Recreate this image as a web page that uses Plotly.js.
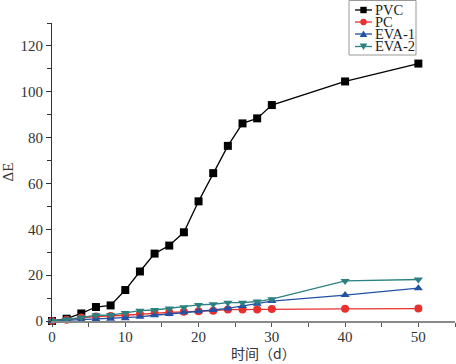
<!DOCTYPE html>
<html>
<head>
<meta charset="utf-8">
<script src="https://cdn.plot.ly/plotly-3.0.1.min.js"></script>
<style>html,body{margin:0;padding:0;background:#fff;}#chart{width:456px;height:364px;}</style>
</head>
<body>
<div id="chart"></div>
<script>
const days = [0, 2, 4, 6, 8, 10, 12, 14, 16, 18, 20, 22, 24, 26, 28, 30, 40, 50];
const pvc  = [0, 1.0, 3.3, 6.1, 6.8, 13.5, 21.6, 29.4, 32.9, 38.7, 52.2, 64.5, 76.4, 86.2, 88.4, 94.2, 104.5, 112.3];
const pc   = [0, 0.5, 1.5, 2.0, 2.2, 2.5, 3.0, 3.5, 3.8, 4.0, 4.2, 4.5, 5.0, 5.0, 5.0, 5.2, 5.3, 5.4];
const eva1 = [0, 0.3, 0.5, 0.8, 1.0, 1.2, 1.8, 2.5, 3.0, 3.8, 4.3, 4.8, 5.5, 6.5, 7.5, 8.7, 11.3, 14.3];
const eva2 = [0, 0.6, 1.5, 2.5, 2.6, 3.5, 4.5, 4.8, 5.5, 6.0, 7.0, 7.3, 8.0, 8.0, 8.5, 9.5, 17.5, 18.1];
const seriesNames = ['PVC', 'PC', 'EVA-1', 'EVA-2'];
const xTitle = '时间（d）';
const yTitle = 'ΔE';

const colors = ['#000000', '#e8312f', '#2451a4', '#2b8080'];
const symbols = ['square', 'circle', 'triangle-up', 'triangle-down'];
const values = [pvc, pc, eva1, eva2];

const traces = values.map((v, i) => ({
  type: 'scatter', mode: 'lines+markers', name: seriesNames[i],
  x: days, y: v, cliponaxis: false,
  line: {color: colors[i], width: 1.3},
  marker: {symbol: symbols[i], size: 8, color: colors[i]}
}));

// plot area in pixels: left 52, right 455, top 23, bottom 321
const L = 52, R = 455, T = 23, B = 321;
const fx = px => (px - L) / (R - L);
const fy = py => (B - py) / (B - T);

const shapes = [];
const annotations = [];
// custom compact legend
shapes.push({type: 'rect', xref: 'paper', yref: 'paper', x0: fx(349), x1: fx(416), y0: fy(55), y1: fy(0.5),
  line: {color: '#999', width: 1}, fillcolor: 'rgba(255,255,255,0)'});
const rows = [10, 22, 34, 46.5];
rows.forEach((py, i) => {
  shapes.push({type: 'line', xref: 'paper', yref: 'paper', x0: fx(355), x1: fx(372), y0: fy(py), y1: fy(py),
    line: {color: colors[i], width: 1.3}});
  const cx = 363.5, s = 3.2;
  if (symbols[i] === 'square') {
    shapes.push({type: 'rect', xref: 'paper', yref: 'paper', x0: fx(cx - s), x1: fx(cx + s), y0: fy(py + s), y1: fy(py - s),
      line: {width: 0}, fillcolor: colors[i]});
  } else if (symbols[i] === 'circle') {
    shapes.push({type: 'circle', xref: 'paper', yref: 'paper', x0: fx(cx - s), x1: fx(cx + s), y0: fy(py + s), y1: fy(py - s),
      line: {width: 0}, fillcolor: colors[i]});
  } else if (symbols[i] === 'triangle-up') {
    shapes.push({type: 'path', xref: 'paper', yref: 'paper',
      path: `M ${fx(cx - 3.8)} ${fy(py + 3)} L ${fx(cx + 3.8)} ${fy(py + 3)} L ${fx(cx)} ${fy(py - 3.6)} Z`,
      line: {width: 0}, fillcolor: colors[i]});
  } else {
    shapes.push({type: 'path', xref: 'paper', yref: 'paper',
      path: `M ${fx(cx - 3.8)} ${fy(py - 3)} L ${fx(cx + 3.8)} ${fy(py - 3)} L ${fx(cx)} ${fy(py + 3.6)} Z`,
      line: {width: 0}, fillcolor: colors[i]});
  }
  annotations.push({xref: 'paper', yref: 'paper', x: fx(374), y: fy(py), xanchor: 'left', yanchor: 'middle',
    text: seriesNames[i], showarrow: false, borderpad: 0,
    font: {family: 'Liberation Serif, Times New Roman, serif', size: 14.5, color: '#222'}});
});
// x-axis title, placed as in the reference (slightly right of centre)
annotations.push({xref: 'paper', yref: 'paper', x: fx(263), y: fy(352.5), xanchor: 'center', yanchor: 'middle',
  text: xTitle, showarrow: false, borderpad: 0,
  font: {family: 'Noto Sans CJK SC, sans-serif', size: 14, color: '#333'}});

const layout = {
  width: 456, height: 364,
  margin: {l: L, r: 456 - R, t: T, b: 364 - B, pad: 0},
  paper_bgcolor: '#fff', plot_bgcolor: '#fff',
  showlegend: false,
  font: {family: 'Liberation Serif, Times New Roman, serif', size: 15, color: '#333'},
  xaxis: {
    range: [0, 55], showgrid: false, zeroline: false,
    showline: true, linecolor: '#888', linewidth: 2,
    ticks: 'outside', ticklen: 4, tickcolor: '#555', tickwidth: 1,
    ticklabelstandoff: -3,
    tickvals: [0, 10, 20, 30, 40, 50],
    minor: {tickvals: [5, 15, 25, 35, 45, 55], ticks: 'outside', ticklen: 4, tickcolor: '#555'},
    tickfont: {size: 15, color: '#333'}
  },
  yaxis: {
    range: [0, 130], showgrid: false, zeroline: false,
    showline: true, linecolor: '#333', linewidth: 1,
    ticks: 'outside', ticklen: 5, tickcolor: '#333', tickwidth: 1,
    tickvals: [0, 20, 40, 60, 80, 100, 120],
    minor: {tickvals: [10, 30, 50, 70, 90, 110, 130], ticks: 'outside', ticklen: 4, tickcolor: '#333'},
    tickfont: {size: 15, color: '#333'},
    title: {text: yTitle, font: {family: 'Liberation Serif, Times New Roman, serif', size: 15, color: '#333'}, standoff: 8}
  },
  shapes: shapes,
  annotations: annotations
};

Plotly.newPlot('chart', traces, layout, {displayModeBar: false, staticPlot: true});
</script>
</body>
</html>
